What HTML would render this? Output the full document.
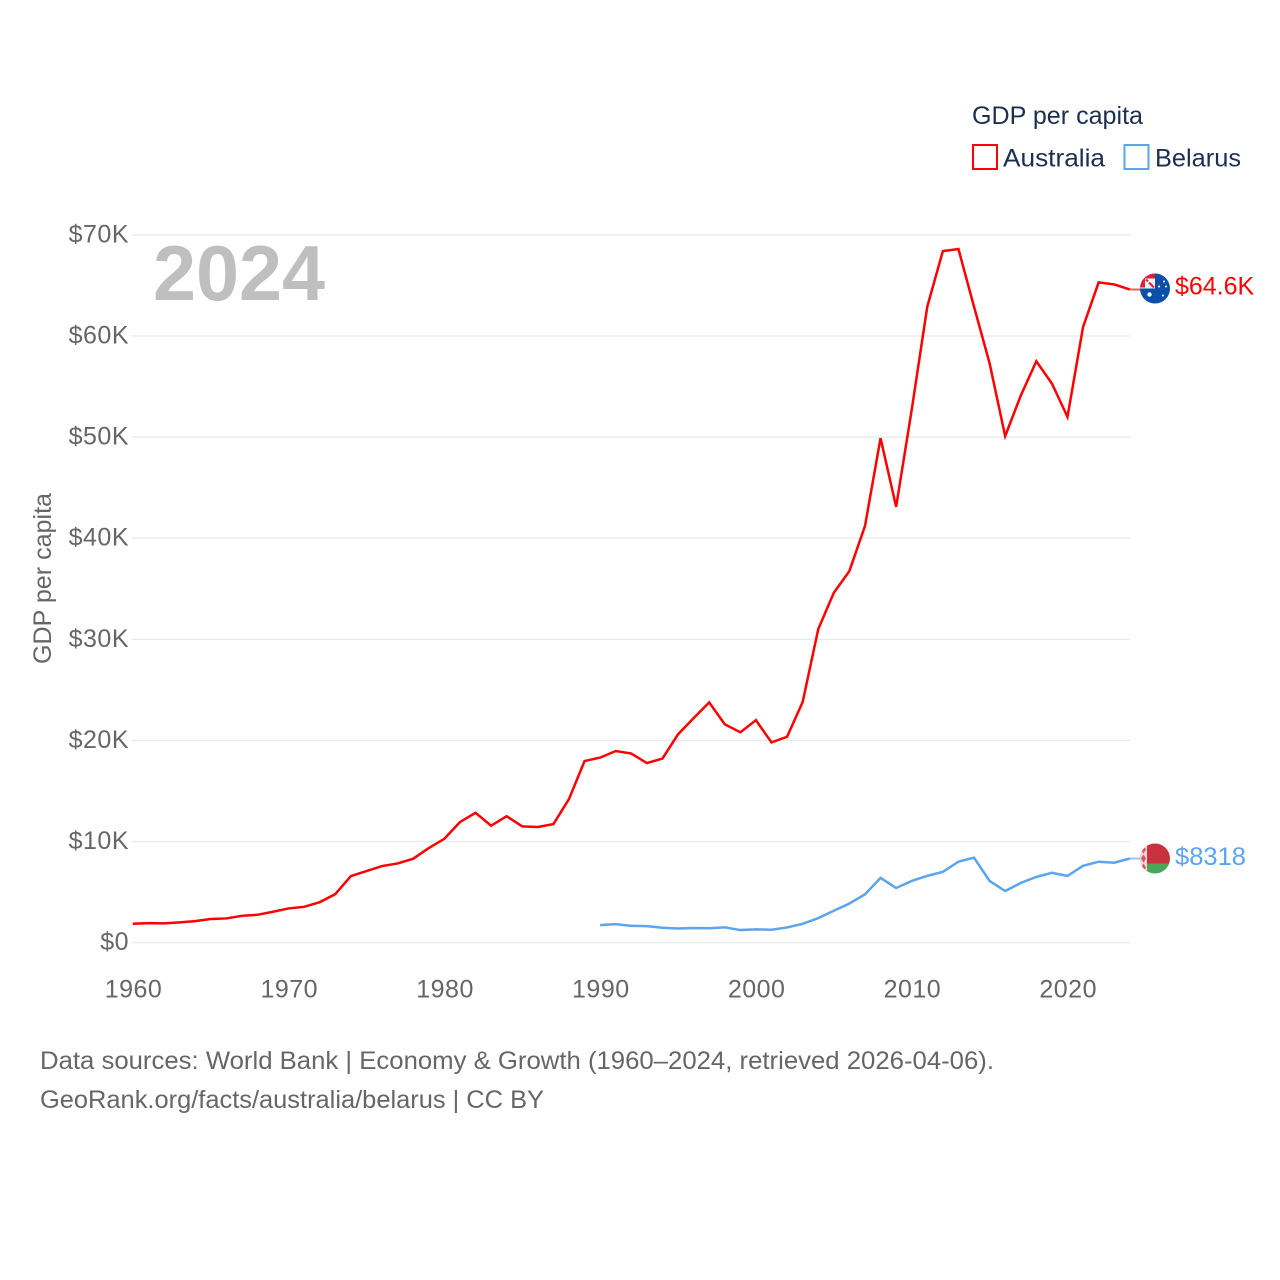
<!DOCTYPE html>
<html lang="en">
<head>
<meta charset="utf-8">
<title>GDP per capita: Australia and Belarus</title>
<style>
  html, body { margin: 0; padding: 0; background: #fff; }
  svg { display: block; font-family: "Liberation Sans", sans-serif; }
</style>
</head>
<body>
<svg id="chart" xmlns="http://www.w3.org/2000/svg" width="1280" height="1280" viewBox="0 0 1280 1280">
  <defs>
    <clipPath id="flag-clip"><circle cx="0" cy="0" r="15"></circle></clipPath>
  </defs>
  <rect x="0" y="0" width="1280" height="1280" fill="#ffffff"></rect>

  <g id="grid"></g>
  <g id="y-ticks"></g>
  <g id="x-ticks"></g>

  <text x="153" y="300" font-size="78" font-weight="700" fill="#bfbfbf" textLength="172" lengthAdjust="spacingAndGlyphs">2024</text>

  <text transform="translate(51 578.5) rotate(-90)" text-anchor="middle" font-size="25" fill="#666666" textLength="171" lengthAdjust="spacingAndGlyphs">GDP per capita</text>

  <g id="series"></g>

  <g id="flag-australia">
    <g clip-path="url(#flag-clip)">
      <rect x="-15" y="-15" width="30" height="30" fill="#0a4fa8"></rect>
      <rect x="-15" y="-15" width="15" height="15" fill="#f0f0f0"></rect>
      <path d="M-15 -15H0V-10H-10V-1H-15Z" fill="#d8203c"></path>
      <path d="M-9 -9L-1 -1" stroke="#d8203c" stroke-width="2"></path>
      <path d="M-9 -4L-4 -9" stroke="#ffffff" stroke-width="1.5"></path>
      <circle cx="-5.5" cy="6" r="2.2" fill="#ffffff"></circle>
      <circle cx="9" cy="-7" r="1" fill="#ffffff"></circle>
      <circle cx="4" cy="-2" r="1" fill="#ffffff"></circle>
      <circle cx="11" cy="-2" r="1" fill="#ffffff"></circle>
      <circle cx="8" cy="7" r="1" fill="#ffffff"></circle>
    </g>
  </g>

  <g id="flag-belarus">
    <g clip-path="url(#flag-clip)">
      <rect x="-15" y="-15" width="30" height="20" fill="#c8313e"></rect>
      <rect x="-15" y="5" width="30" height="10" fill="#4aa657"></rect>
      <rect x="-15" y="-15" width="7" height="30" fill="#f3d6d8"></rect>
      <path d="M-11.5 -13L-9 -9L-11.5 -5L-14 -9ZM-11.5 -4L-9 0L-11.5 4L-14 0ZM-11.5 5L-9 9L-11.5 13L-14 9Z" fill="#d9525d"></path>
    </g>
  </g>

  <text id="value-australia" x="1175" font-size="25" fill="#ff0000">$64.6K</text>
  <text id="value-belarus" x="1175" font-size="25" fill="#5ba4ee" textLength="71" lengthAdjust="spacingAndGlyphs">$8318</text>

  <g>
    <text x="972" y="124" font-size="25" fill="#1b2f50" textLength="171" lengthAdjust="spacingAndGlyphs">GDP per capita</text>
    <g>
      <rect x="973" y="145" width="24" height="24" fill="#ffffff" stroke="#ff0000" stroke-width="2"></rect>
      <text x="1003" y="166.5" font-size="25" fill="#1b2f50" textLength="102" lengthAdjust="spacingAndGlyphs">Australia</text>
    </g>
    <g>
      <rect x="1124.5" y="145" width="24" height="24" fill="#ffffff" stroke="#5ba4ee" stroke-width="2"></rect>
      <text x="1155" y="166.5" font-size="25" fill="#1b2f50" textLength="86" lengthAdjust="spacingAndGlyphs">Belarus</text>
    </g>
  </g>

  <text x="40" y="1069" font-size="25" fill="#666666" textLength="954" lengthAdjust="spacingAndGlyphs">Data sources: World Bank | Economy &amp; Growth (1960–2024, retrieved 2026-04-06).</text>
  <text x="40" y="1108" font-size="25" fill="#666666" textLength="504" lengthAdjust="spacingAndGlyphs">GeoRank.org/facts/australia/belarus | CC BY</text>
</svg>

<script>
const xTickYears = [1960, 1970, 1980, 1990, 2000, 2010, 2020];
const yTickValues = [0, 10, 20, 30, 40, 50, 60, 70];
const yTickLabels = ["$0", "$10K", "$20K", "$30K", "$40K", "$50K", "$60K", "$70K"];

const australiaStartYear = 1960;
const australiaValues = [
  1.86, 1.93, 1.90, 2.00, 2.13, 2.33, 2.39, 2.65, 2.75, 3.05,
  3.38, 3.54, 4.00, 4.80, 6.58, 7.07, 7.57, 7.83, 8.30, 9.35,
  10.27, 11.92, 12.84, 11.56, 12.50, 11.50, 11.43, 11.72, 14.20, 17.96,
  18.30, 18.95, 18.70, 17.76, 18.20, 20.60, 22.20, 23.76, 21.60, 20.80,
  22.00, 19.80, 20.36, 23.80, 31.00, 34.60, 36.75, 41.20, 49.90, 43.10,
  52.70, 62.90, 68.40, 68.60, 62.90, 57.30, 50.10, 54.10, 57.50, 55.30,
  52.00, 60.90, 65.30, 65.10, 64.60
];

const belarusStartYear = 1990;
const belarusValues = [
  1.73, 1.83, 1.66, 1.63, 1.47, 1.40, 1.44, 1.42, 1.51, 1.24,
  1.31, 1.27, 1.50, 1.86, 2.42, 3.15, 3.87, 4.77, 6.40, 5.40,
  6.10, 6.60, 7.00, 8.00, 8.40, 6.10, 5.10, 5.90, 6.50, 6.90,
  6.60, 7.60, 8.00, 7.90, 8.318
];

const NS = "http://www.w3.org/2000/svg";
const xScale = function (year) { return 132.8 + (year - 1960) * (997 / 64); };
const yScale = function (value) { return 942.6 - value * 10.11; };

const gridGroup = document.getElementById("grid");
const yTickGroup = document.getElementById("y-ticks");
const xTickGroup = document.getElementById("x-ticks");
const seriesGroup = document.getElementById("series");

yTickValues.forEach(function (value, i) {
  const gridLine = document.createElementNS(NS, "line");
  
  
  gridLine.setAttribute("x1", 132);
  gridLine.setAttribute("x2", 1130);
  gridLine.setAttribute("y1", yScale(value));
  gridLine.setAttribute("y2", yScale(value));
  gridLine.setAttribute("stroke", "#ebebeb");
  gridLine.setAttribute("stroke-width", "1.4");
  gridGroup.appendChild(gridLine);

  const tickLabel = document.createElementNS(NS, "text");
  
  
  tickLabel.setAttribute("x", 129);
  tickLabel.setAttribute("y", yScale(value) + 7.5);
  tickLabel.setAttribute("text-anchor", "end");
  tickLabel.setAttribute("font-size", "25");
  tickLabel.setAttribute("letter-spacing", "0.5");
  tickLabel.setAttribute("fill", "#666666");
  tickLabel.textContent = yTickLabels[i];
  yTickGroup.appendChild(tickLabel);
});

xTickYears.forEach(function (year) {
  const tickLabel = document.createElementNS(NS, "text");
  
  
  tickLabel.setAttribute("x", xScale(year) + 0.7);
  tickLabel.setAttribute("y", 997.5);
  tickLabel.setAttribute("text-anchor", "middle");
  tickLabel.setAttribute("font-size", "25");
  tickLabel.setAttribute("letter-spacing", "0.5");
  tickLabel.setAttribute("fill", "#666666");
  tickLabel.textContent = String(year);
  xTickGroup.appendChild(tickLabel);
});

function pointsFor(values, startYear) {
  return values.map(function (value, i) {
    return xScale(startYear + i).toFixed(2) + "," + yScale(value).toFixed(2);
  }).join(" ");
}

const australiaLine = document.createElementNS(NS, "polyline");


australiaLine.setAttribute("points", pointsFor(australiaValues, australiaStartYear));
australiaLine.setAttribute("fill", "none");
australiaLine.setAttribute("stroke", "#ff0000");
australiaLine.setAttribute("stroke-width", "2.5");
seriesGroup.appendChild(australiaLine);

const belarusLine = document.createElementNS(NS, "polyline");


belarusLine.setAttribute("points", pointsFor(belarusValues, belarusStartYear));
belarusLine.setAttribute("fill", "none");
belarusLine.setAttribute("stroke", "#5ba4ee");
belarusLine.setAttribute("stroke-width", "2.5");
seriesGroup.appendChild(belarusLine);

const australiaLast = yScale(australiaValues[australiaValues.length - 1]);
const belarusLast = yScale(belarusValues[belarusValues.length - 1]);

const australiaConnector = document.createElementNS(NS, "line");


australiaConnector.setAttribute("x1", xScale(2024));
australiaConnector.setAttribute("x2", 1141);
australiaConnector.setAttribute("y1", australiaLast);
australiaConnector.setAttribute("y2", australiaLast);
australiaConnector.setAttribute("stroke", "#ff0000");
australiaConnector.setAttribute("stroke-opacity", "0.65");
australiaConnector.setAttribute("stroke-width", "2");
seriesGroup.appendChild(australiaConnector);

const belarusConnector = document.createElementNS(NS, "line");


belarusConnector.setAttribute("x1", xScale(2024));
belarusConnector.setAttribute("x2", 1141);
belarusConnector.setAttribute("y1", belarusLast);
belarusConnector.setAttribute("y2", belarusLast);
belarusConnector.setAttribute("stroke", "#5ba4ee");
belarusConnector.setAttribute("stroke-opacity", "0.65");
belarusConnector.setAttribute("stroke-width", "2");
seriesGroup.appendChild(belarusConnector);

document.getElementById("flag-australia").setAttribute("transform", "translate(1155 " + (australiaLast - 1) + ")");
document.getElementById("flag-belarus").setAttribute("transform", "translate(1155 " + belarusLast + ")");
document.getElementById("value-australia").setAttribute("y", australiaLast + 5);
document.getElementById("value-belarus").setAttribute("y", belarusLast + 6.5);
</script>
</body>
</html>
